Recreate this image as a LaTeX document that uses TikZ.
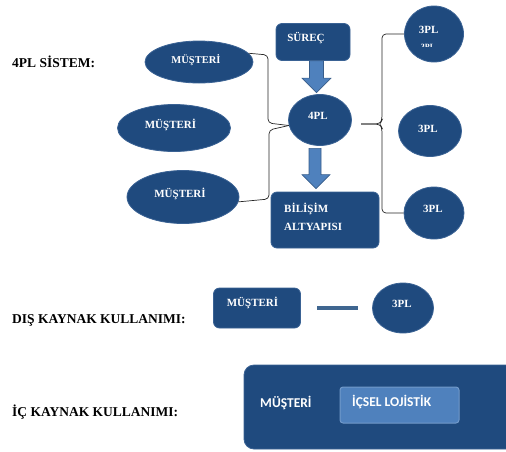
\documentclass[tikz,border=0pt]{standalone}
\usepackage{fontspec}
\setmainfont{Liberation Serif}
\newfontfamily\calib{Carlito}
\usetikzlibrary{calc,shapes.geometric}
\definecolor{dkblue}{HTML}{1F4A7E}
\definecolor{edgeblue}{HTML}{3A6294}
\definecolor{ltblue}{HTML}{4F81BD}
\definecolor{ltedge}{HTML}{385D8A}
\definecolor{lineblue}{HTML}{3F6690}
\begin{document}
\begin{tikzpicture}[x=1pt,y=-1pt,
  ell/.style={ellipse, fill=dkblue, draw=edgeblue, line width=0.8pt, inner sep=0pt},
  boxn/.style={rectangle, rounded corners=6pt, fill=dkblue, draw=edgeblue, line width=0.8pt, inner sep=0pt},
  lbl/.style={anchor=base west, inner sep=0pt, font=\bfseries\fontsize{13.5}{16}\selectfont, text=black},
  wt/.style={anchor=base, inner sep=0pt, text=white, font=\bfseries\fontsize{11}{13}\selectfont},
  wtl/.style={wt, anchor=base west},
  sanswt/.style={anchor=base west, inner sep=0pt, text=white, font=\calib\bfseries\fontsize{13.5}{16}\selectfont},
  bracen/.style={draw=black!85, line width=0.7pt, rounded corners=4pt},
  blockarrow/.style={fill=ltblue, draw=ltedge, line width=0.6pt}
]
\useasboundingbox (0,0) rectangle (506,451);

% headings
\node[lbl] (h1) at (12,67) {4PL SİSTEM:};
\node[lbl] (h2) at (12,323) {DIŞ KAYNAK KULLANIMI:};
\node[lbl] (h3) at (12,416) {İÇ KAYNAK KULLANIMI:};

% customers
\node[ell, minimum width=108pt, minimum height=42pt] (m1) at (199,62) {};
\node[ell, minimum width=113pt, minimum height=47pt] (m2) at (174,128) {};
\node[ell, minimum width=112pt, minimum height=53pt] (m3) at (183,197) {};
\node[wt, font=\bfseries\fontsize{10.5}{12}\selectfont] (t1) at (196,63) {MÜŞTERİ};
\node[wt] (t2) at (170.5,128) {MÜŞTERİ};
\node[wt] (t3) at (180,197) {MÜŞTERİ};

% centre column
\node[boxn, minimum width=74pt, minimum height=37pt] (sur) at (313,42) {};
\node[wt] (tsur) at (306,41.7) {SÜREÇ};
\node[ell, minimum width=63pt, minimum height=51pt] (pl4) at (320,120) {};
\node[wt] (tpl4) at (318,119) {4PL};
\node[boxn, minimum width=108pt, minimum height=56pt] (bil) at (325,220) {};
\node[wtl] (tbil1) at (284,212) {BİLİŞİM};
\node[wtl] (tbil2) at (284,230) {ALTYAPISI};

% 3PL column
\node[ell, minimum width=59pt, minimum height=56pt] (r1) at (434,34) {};
\node[wt] (tr1) at (428.7,33) {3PL};
\begin{scope}
  \clip (415,42) rectangle (445,46.8);
  \node[wt, font=\bfseries\fontsize{8}{9}\selectfont] (tr1b) at (428,49) {3PL};
\end{scope}
\node[ell, minimum width=63pt, minimum height=51pt] (r2) at (430,131) {};
\node[wt] (tr2) at (428,132) {3PL};
\node[ell, minimum width=60pt, minimum height=52pt] (r3) at (434,213) {};
\node[wt] (tr3) at (433,212) {3PL};

% block arrows
\path[blockarrow] let \p1=(sur.south), \p2=(pl4.north) in
  (309.5pt,\y1) -- (323.5pt,\y1) -- (323.5pt,\y2+16pt) -- (331pt,\y2+16pt)
  -- (316.5pt,\y2+1.5pt) -- (302pt,\y2+16pt) -- (309.5pt,\y2+16pt) -- cycle;
\path[blockarrow] let \p1=(pl4.south), \p2=(bil.north) in
  (309pt,\y1-2.5pt) -- (321pt,\y1-2.5pt) -- (321pt,\y2+17pt) -- (330pt,\y2+17pt)
  -- (316pt,\y2+3pt) -- (302pt,\y2+17pt) -- (309pt,\y2+17pt) -- cycle;

% braces
\draw[bracen] (m1.10) -- (268,55) -- (268,123) -- (pl4.190);
\draw[bracen] (pl4.190) -- (269,130) -- (269,199) -- (m3.-5);
\coordinate (rtip) at (361,124);
\draw[bracen] (rtip) -- (380,124) -- (382,120) -- (382,34) -- (r1.west);
\draw[bracen] (rtip) -- (380,124) -- (382,128) -- (382,213) -- (r3.west);

% external sourcing
\node[boxn, minimum width=87pt, minimum height=40pt] (dm) at (257,308) {};
\node[wt] (tdm) at (252.5,306.7) {MÜŞTERİ};
\node[ell, minimum width=61pt, minimum height=50pt] (dp) at (403,308) {};
\node[wt] (tdp) at (402,307) {3PL};
\draw[lineblue, line width=4pt, shorten <=16.5pt, shorten >=14.5pt] (dm.east) -- (dp.west);

% internal sourcing
\begin{scope}
  \clip (0,0) rectangle (506,451);
  \node[boxn, rounded corners=10pt, minimum width=296pt, minimum height=84pt] (big) at (392,407) {};
\end{scope}
\node[sanswt] (tbig) at (260,407) {MÜŞTERİ};
\node[rectangle, rounded corners=3pt, fill=ltblue, draw=ltblue!80!white, line width=1pt,
      minimum width=119pt, minimum height=36pt, inner sep=0pt] (isl) at (399.5,405) {};
\node[sanswt] (tisl) at (352,406.7) {İÇSEL LOJİSTİK};
\end{tikzpicture}
\end{document}
